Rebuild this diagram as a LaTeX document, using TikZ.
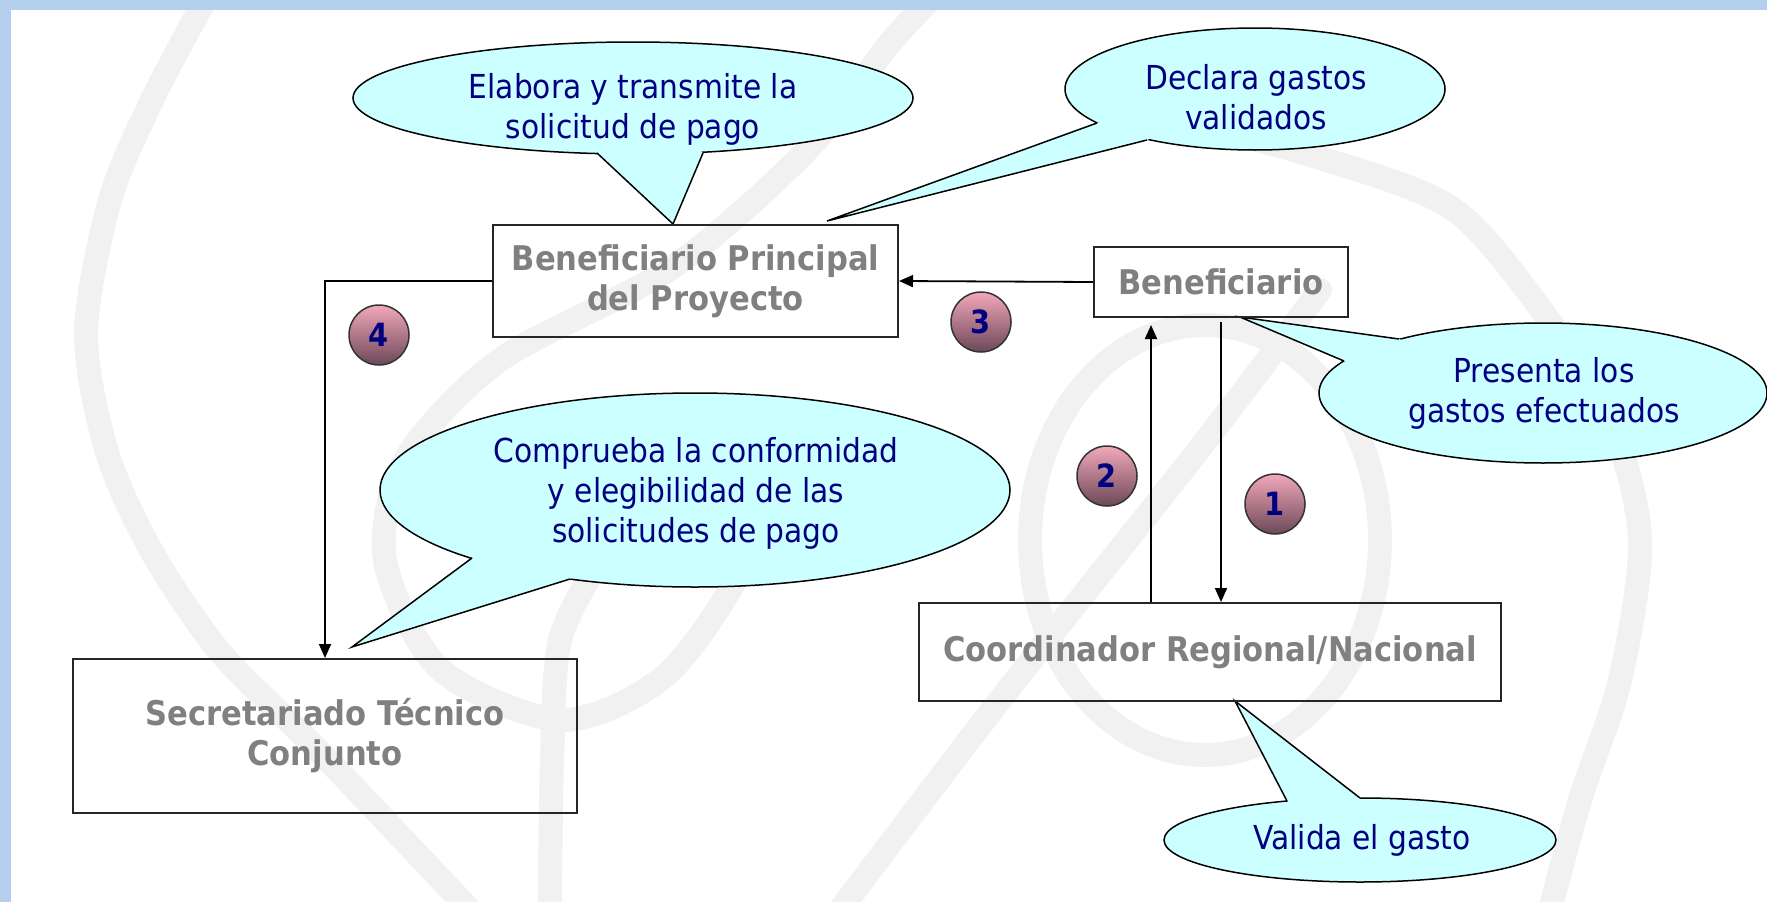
\documentclass[tikz,border=0pt]{standalone}
\usepackage{fontspec}
\setmainfont{DejaVu Sans}
\newfontfamily\calfont[FakeStretch=0.9]{DejaVu Sans}
\usetikzlibrary{arrows.meta}
\definecolor{bordblue}{RGB}{180,208,238}
\definecolor{wmgray}{RGB}{241,241,241}
\definecolor{calcyan}{RGB}{204,255,255}
\definecolor{navytext}{RGB}{0,0,128}
\definecolor{boxtext}{RGB}{128,128,128}
\definecolor{pinktop}{RGB}{242,168,186}
\definecolor{pinkbot}{RGB}{108,72,88}
\tikzset{
  box/.style={draw=black!85, line width=2pt, rectangle, inner sep=0pt, align=center,
    text=boxtext, font=\calfont\bfseries\fontsize{34}{40}\selectfont},
  caltext/.style={align=center, text=navytext, inner sep=0pt,
    font=\calfont\fontsize{33}{40}\selectfont},
  calfill/.style={fill=calcyan},
  calline/.style={draw=black, line width=1.5pt},
  numc/.style={circle, minimum size=60pt, inner sep=0pt, draw=black!80, line width=1.5pt,
    top color=pinktop, bottom color=pinkbot, text=navytext,
    font=\calfont\bfseries\fontsize{32}{32}\selectfont},
  conn/.style={line width=1.8pt, draw=black},
  arr/.style={conn, -{Triangle[length=14pt,width=12pt]}},
  wm/.style={draw=wmgray, line width=24pt, line cap=round}
}
\begin{document}
\begin{tikzpicture}[x=1pt,y=-1pt]
\useasboundingbox (0,0) rectangle (1767,902);
\fill[bordblue] (0,0) rectangle (1767,902);
\fill[white] (11,10) rectangle (1767,902);
% watermark
\begin{scope}
\clip (11,10) rectangle (1767,902);
\draw[wm] plot[smooth] coordinates {(205,0) (152,100) (110,200) (86,333) (107,452) (152,552) (220,652) (320,752) (415,852) (470,910)};
\draw[wm] plot[smooth] coordinates {(940,-10) (890,43) (807,150) (673,267) (500,360) (405,460) (385,560) (440,669) (560,720) (660,680) (730,590) (800,450)};
\draw[wm] plot[smooth] coordinates {(550,910) (552,760) (560,640) (600,560)};
\draw[wm] (1205,540) ellipse (175 and 215);
\draw[wm] plot[smooth] coordinates {(1180,120) (1317,157) (1450,207) (1534,300) (1610,420) (1640,540) (1620,680) (1580,800) (1550,910)};
\draw[wm] plot[smooth] coordinates {(840,910) (1000,700) (1197,452) (1320,290)};
\end{scope}

% callout: Elabora
\fill[calfill] (633,98) ellipse (280 and 56);
\draw[calline] (633,98) ellipse (280 and 56);
\fill[calfill] (597,153) -- (673,224) -- (703,153) -- (633,98) -- cycle;
\draw[calline] (597,153) -- (673,224) -- (703,153);
\node[caltext] (elabt) at (633,109) {Elabora y transmite la\\solicitud de pago};

% callout: Declara
\fill[calfill] (1255,89) ellipse (190 and 61);
\draw[calline] (1255,89) ellipse (190 and 61);
\fill[calfill] (1097,123) -- (827,221) -- (1147,140) -- (1255,89) -- cycle;
\draw[calline] (1097,123) -- (827,221) -- (1147,140);
\node[caltext] (declt) at (1256,97) {Declara gastos\\validados};

% callout: Presenta
\fill[calfill] (1543,393) ellipse (224 and 70);
\draw[calline] (1543,393) ellipse (224 and 70);
\fill[calfill] (1344,361) -- (1240,317) -- (1399,339) -- (1543,393) -- cycle;
\draw[calline] (1344,361) -- (1240,317) -- (1399,339);
\node[caltext] (prest) at (1544,393) {Presenta los\\gastos efectuados};

% callout: Comprueba
\fill[calfill] (695,490) ellipse (315 and 97);
\draw[calline] (695,490) ellipse (315 and 97);
\fill[calfill] (472,558) -- (352,647) -- (570,579) -- (695,490) -- cycle;
\draw[calline] (472,558) -- (352,647) -- (570,579);
\node[caltext] (compt) at (696,493) {Comprueba la conformidad\\y elegibilidad de las\\solicitudes de pago};

% callout: Valida
\fill[calfill] (1360,840) ellipse (196 and 42);
\draw[calline] (1360,840) ellipse (196 and 42);
\fill[calfill] (1287,801) -- (1235,701) -- (1360,798) -- (1360,840) -- cycle;
\draw[calline] (1287,801) -- (1235,701) -- (1360,798);
\node[caltext] (valt) at (1362,840) {Valida el gasto};

% boxes
\node[box, minimum width=405pt, minimum height=112pt] (bp) at (695.5,281) {Beneficiario Principal\\del Proyecto};
\node[box, minimum width=254pt, minimum height=70pt] (ben) at (1221,282) {Beneficiario};
\node[box, minimum width=582pt, minimum height=98pt] (coord) at (1210,652) {Coordinador Regional/Nacional};
\node[box, minimum width=504pt, minimum height=154pt] (stc) at (325,736) {Secretariado Técnico\\Conjunto};

% connectors
\draw[arr] (bp.west) -| (stc.north);
\draw[arr] (ben.west) -- (bp.east);
\coordinate (t1) at (1221,322);
\draw[arr] (t1) -- (t1 |- coord.north);
\coordinate (t2) at (1151,325);
\draw[arr] (t2 |- coord.north) -- (t2);

% numbers
\node[numc] (n4) at (379,335) {4};
\node[numc] (n3) at (981,322) {3};
\node[numc] (n2) at (1107,476) {2};
\node[numc] (n1) at (1275,504) {1};
\end{tikzpicture}
\end{document}
